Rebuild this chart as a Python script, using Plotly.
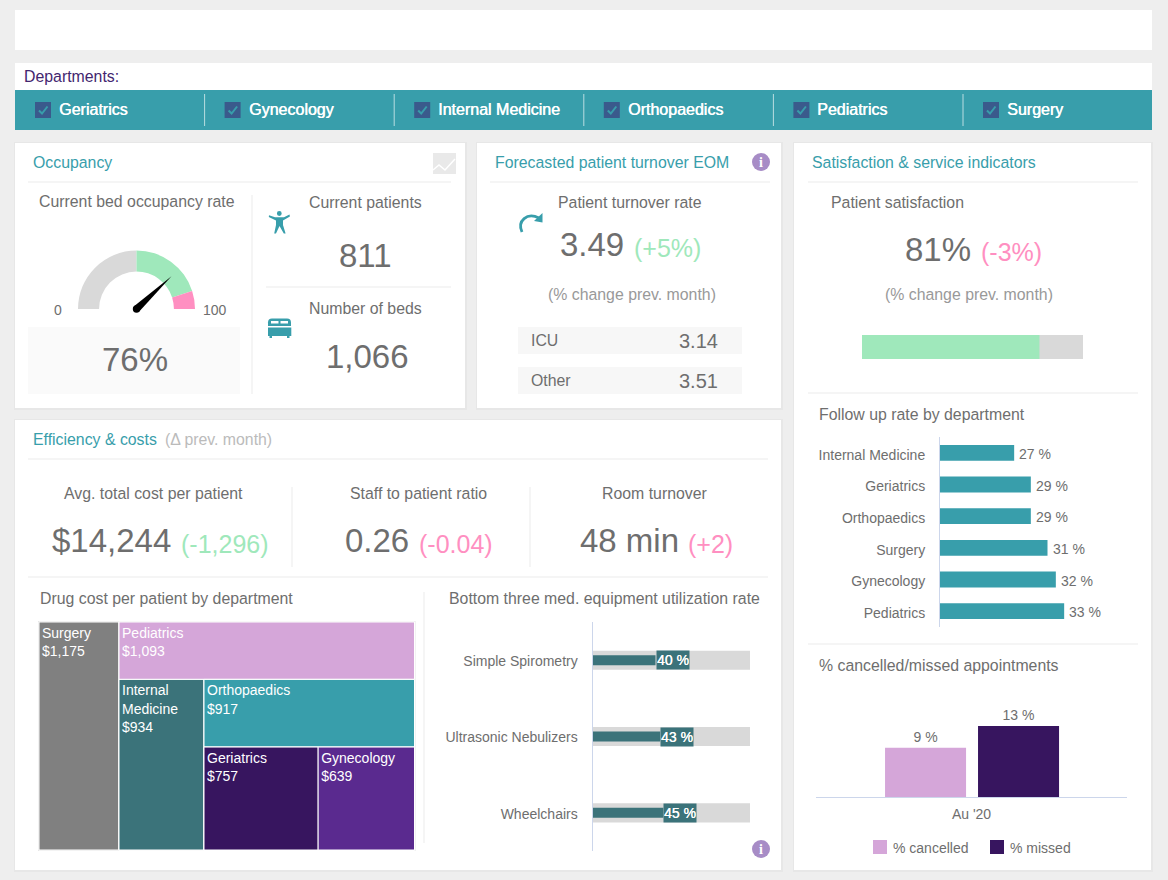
import re
import math
import plotly.graph_objects as go

W, H = 1168, 880
TEAL = "#389eab"; DTEAL = "#3b737a"; GREY = "#6e6e6e"; GREEN = "#9fe8bb"; PINK = "#ff8fc1"
LILAC = "#d5a6d9"; DPURPLE = "#37155f"; PURPLE = "#5a2a8f"; LGREY = "#d9d9d9"
FONT = "Liberation Sans"
T = 15.85  # body text size

departments = ["Geriatrics", "Gynecology", "Internal Medicine", "Orthopaedics", "Pediatrics", "Surgery"]
tree_labels = ["Surgery", "Pediatrics", "Internal<br>Medicine", "Orthopaedics", "Geriatrics", "Gynecology"]
tree_costs = [1175, 1093, 934, 917, 757, 639]
tree_colors = ["#808080", LILAC, DTEAL, TEAL, DPURPLE, PURPLE]
follow_depts = ["Internal Medicine", "Geriatrics", "Orthopaedics", "Surgery", "Gynecology", "Pediatrics"]
follow_rates = [27, 29, 29, 31, 32, 33]
equip_names = ["Simple Spirometry", "Ultrasonic Nebulizers", "Wheelchairs"]
equip_rates = [40, 43, 45]
equip_full = [100, 100, 100]
appt_period = ["Au '20"]
appt_cancelled = [9]
appt_missed = [13]
gauge_bands = [50, 40, 10]
occupancy = 76
satisfaction = 81
satisfaction_bar = 80.3

fig = go.Figure()
shapes, notes = [], []

def X(x): return x / W
def Y(y): return 1 - y / H
def xd(a, b): return [a / W, b / W]
def yd(t, b): return [1 - b / H, 1 - t / H]

def rect(x0, y0, x1, y1, fill, layer="below"):
    shapes.append(dict(type="rect", xref="paper", yref="paper", x0=X(x0), x1=X(x1), y0=Y(y0), y1=Y(y1),
                       fillcolor=fill, line=dict(width=0), layer=layer))

def line(x0, y0, x1, y1, color="#f2f2f2", w=1.5):
    shapes.append(dict(type="line", xref="paper", yref="paper", x0=X(x0), x1=X(x1), y0=Y(y0), y1=Y(y1),
                       line=dict(color=color, width=w), layer="below"))

def circle(cx, cy, r, fill):
    shapes.append(dict(type="circle", xref="paper", yref="paper", x0=X(cx - r), x1=X(cx + r), y0=Y(cy - r), y1=Y(cy + r),
                       fillcolor=fill, line=dict(width=0), layer="above"))

def path(d, fill=None, color=None, w=0):
    d2 = re.sub(r"(-?[\d.]+),(-?[\d.]+)", lambda m: f"{X(float(m.group(1))):.5f},{Y(float(m.group(2))):.5f}", d)
    shapes.append(dict(type="path", xref="paper", yref="paper", path=d2, fillcolor=fill or "rgba(0,0,0,0)",
                       line=dict(color=color or "rgba(0,0,0,0)", width=w), layer="above"))

def text(x, y, s, size=T, color=GREY, anchor="center", shadow=None):
    if anchor == "left":
        x -= 2
    f = dict(family=FONT, size=size, color=color)
    if shadow:
        f["shadow"] = shadow
    notes.append(dict(xref="paper", yref="paper", x=X(x), y=Y(y + 0.5), text=s, showarrow=False, xanchor=anchor,
                      yanchor="middle", font=f, align=anchor))

def panel(x0, y0, x1, y1):
    rect(x0 - 1, y0 - 1, x1 + 2, y1 + 2, "#e7e7e7")
    rect(x0, y0, x1, y1, "#ffffff")

def info(cx, cy):
    circle(cx, cy, 9, "#a78cc6")
    text(cx, cy, "<b>i</b>", 14, "#ffffff")
    notes[-1]["font"]["family"] = "Liberation Serif"

# ---------- page furniture
rect(15, 10, 1152, 50, "#ffffff")
rect(15, 63, 1152, 90, "#ffffff")
rect(15, 90, 1152, 130, TEAL)
text(24, 76, "Departments:", T, "#43266f", "left")
for i, d in enumerate(departments):
    bx = 35 + i * 189.6
    rect(bx, 102, bx + 16, 118, "#3a5a8c")
    path(f"M {bx+4},{110.5} L {bx+7},{113.5} L {bx+12.5},{106.5}", color=TEAL, w=2)
    text(bx + 24, 108.5, d, 16, "#ffffff", "left", shadow="0.5px 0 0 #ffffff")
    if i:
        line(bx - 20, 94, bx - 20, 126, "#b9dde1", 1)

panel(15, 143, 465, 408)
panel(477, 143, 781, 408)
panel(794, 143, 1151, 870)
panel(15, 420, 781, 870)

# ---------- occupancy
text(33, 162, "Occupancy", T, TEAL, "left")
line(28, 182, 451, 182)
rect(433, 153, 456, 174, "#e9e9e9")
path("M 433,170 L 439,165 L 445,170 L 455,159", color="#ffffff", w=1.5)
text(136.5, 201, "Current bed occupancy rate")
line(252, 195, 252, 394)
rect(28, 327, 240, 394, "#fafafa")
text(134.5, 359, f"{occupancy}%", 33)
text(58, 309, "0", 14)
text(215, 309, "100", 14)
text(365.5, 202, "Current patients")
text(365, 255, "811", 33)
line(266, 287, 451, 287)
text(365.5, 308, "Number of beds")
text(367, 356, "1,066", 33)
# person icon
circle(279.3, 213.5, 2.4, TEAL)
path("M 269,215.2 L 275,217.3 L 284,217.3 L 289.5,214.6 L 289.9,216.5 L 283,220.5 L 283,225 L 285.6,233.5 L 283.8,233.5 "
     "L 279.5,226 L 276,233.5 L 274.2,233.5 L 276,225 L 276,220.5 L 268.8,217 Z", fill=TEAL)
# bed icon
path("M 272,318.5 L 287,318.5 Q 291,318.5 291,322.5 L 291,326 L 268,326 L 268,322.5 Q 268,318.5 272,318.5 Z", fill=TEAL)
rect(268, 327.5, 291.3, 336, TEAL, "above")
rect(269.5, 336, 272, 338, TEAL, "above")
rect(287, 336, 289.5, 338, TEAL, "above")
rect(271, 321, 278.5, 323.5, "#ffffff", "above")
rect(280.5, 321, 288, 323.5, "#ffffff", "above")

# gauge
gcx, gcy, gr = 136.5, 309, 58.5
fig.add_trace(go.Pie(values=gauge_bands + [sum(gauge_bands)], rotation=270, direction="clockwise", sort=False,
                     hole=0.64, textinfo="none", hoverinfo="skip", showlegend=False,
                     marker=dict(colors=[LGREY, GREEN, PINK, "rgba(0,0,0,0)"], line=dict(width=0)),
                     domain=dict(x=xd(gcx - gr, gcx + gr), y=yd(gcy - gr, gcy + gr))))
ang = math.pi * (1 - occupancy / 100)
tx, ty = gcx + 48 * math.cos(ang), gcy - 48 * math.sin(ang)
nx, ny = -math.sin(ang) * 3.7, -math.cos(ang) * 3.7
path(f"M {gcx+nx},{gcy+ny} L {tx},{ty} L {gcx-nx},{gcy-ny} Z", fill="#000000")
circle(gcx, gcy, 3.7, "#000000")

# ---------- forecast
text(495, 162, "Forecasted patient turnover EOM", T, TEAL, "left")
info(761, 162)
line(490, 182, 770, 182)
text(630, 202, "Patient turnover rate")
path("M 522,232 C 517,221 527,212 539,218", color=TEAL, w=2.8)
path("M 542.5,213 L 542.5,222.5 L 534,221 Z", fill=TEAL)
text(560, 244, "3.49", 33, GREY, "left")
text(634, 247, "(+5%)", 25, GREEN, "left")
text(632, 294, "(% change prev. month)", T, "#999999")
rect(518, 327, 742, 354, "#f7f7f7")
rect(518, 367, 742, 394, "#f7f7f7")
text(531, 340, "ICU", T, GREY, "left")
text(698, 340, "3.14", 20)
text(531, 380, "Other", T, GREY, "left")
text(698, 380, "3.51", 20)

# ---------- satisfaction
text(812, 162, "Satisfaction &amp; service indicators", T, TEAL, "left")
line(808, 182, 1138, 182)
text(831, 202, "Patient satisfaction", T, GREY, "left")
text(905, 249, f"{satisfaction}%", 33, GREY, "left")
text(981, 252, "(-3%)", 25, PINK, "left")
text(969, 294, "(% change prev. month)", T, "#999999")
line(808, 393, 1138, 393)
text(819, 414, "Follow up rate by department", T, GREY, "left")
line(808, 644, 1138, 644)
text(819, 665, "% cancelled/missed appointments", T, GREY, "left")

# ---------- efficiency
text(33, 439, "Efficiency &amp; costs", T, TEAL, "left")
text(165, 439, "(Δ prev. month)", T, "#bbbbbb", "left")
line(28, 459, 768, 459)
text(153, 493, "Avg. total cost per patient")
text(52, 540, "$14,244", 33, GREY, "left")
text(181, 543, "(-1,296)", 25, GREEN, "left")
line(292, 487, 292, 567)
text(418, 493, "Staff to patient ratio")
text(345, 540, "0.26", 33, GREY, "left")
text(419, 543, "(-0.04)", 25, PINK, "left")
line(530, 487, 530, 567)
text(655, 493, "Room turnover")
text(580, 540, "48 min", 33, GREY, "left")
text(688, 543, "(+2)", 25, PINK, "left")
line(28, 577, 768, 577)
text(40, 598, "Drug cost per patient by department", T, GREY, "left")
text(449, 598, "Bottom three med. equipment utilization rate", T, GREY, "left")
line(424, 592, 424, 843)
info(761, 849)

# ---------- treemap: nested so that the slice/dice packing gives the reference's tiles
rect(38, 621, 415.5, 851, "#e6e6e6")
ids, parents, values, labels, colors, texts = [], [], [], [], [], []
prev_parent = ""
for i, (lab, cost, col) in enumerate(zip(tree_labels, tree_costs, tree_colors)):
    ids.append(f"leaf{i}"); parents.append(prev_parent); values.append(cost); labels.append(lab)
    colors.append(col); texts.append(f"{lab}<br>${cost:,}")
    if i < len(tree_costs) - 2:
        ids.append(f"group{i}"); parents.append(prev_parent); values.append(0); labels.append(f"group{i}")
        colors.append("#ffffff"); texts.append("")
        prev_parent = f"group{i}"
fig.add_trace(go.Treemap(ids=ids, parents=parents, values=values, labels=labels, text=texts, textinfo="text",
                         branchvalues="remainder", sort=False, hoverinfo="text", maxdepth=-1,
                         tiling=dict(packing="slice-dice", pad=0),
                         pathbar=dict(visible=False), textposition="top left",
                         textfont=dict(family=FONT, size=14, color="#ffffff"),
                         marker=dict(colors=colors, line=dict(color="#ffffff", width=1), pad=dict(t=0, l=0, r=0, b=0)),
                         domain=dict(x=xd(39, 414.5), y=yd(622, 850))))

AX = dict(showgrid=False, zeroline=False, showticklabels=False, fixedrange=True, ticks="")
AXIS_TXT = dict(family=FONT, size=14, color=GREY)

# ---------- satisfaction bar
fig.add_trace(go.Bar(x=[100], y=["s"], orientation="h", marker=dict(color=LGREY, line=dict(width=0)), width=1,
                     showlegend=False, hoverinfo="skip", xaxis="x", yaxis="y"))
fig.add_trace(go.Bar(x=[satisfaction_bar], y=["s"], orientation="h", marker=dict(color=GREEN, line=dict(width=0)), width=1,
                     showlegend=False, hoverinfo="skip", xaxis="x", yaxis="y"))

# ---------- follow up
fig.add_trace(go.Bar(x=follow_rates, y=follow_depts, orientation="h", marker=dict(color=TEAL, line=dict(width=0)), width=0.5,
                     showlegend=False, xaxis="x2", yaxis="y2"))
for n, v in zip(follow_depts, follow_rates):
    notes.append(dict(xref="x2", yref="y2", x=v, y=n, text=f"{v} %", showarrow=False, xanchor="left", yanchor="middle",
                      xshift=3, yshift=-1, font=AXIS_TXT))

# ---------- equipment
fig.add_trace(go.Bar(x=equip_full, y=equip_names, orientation="h", marker=dict(color=LGREY, line=dict(width=0)), width=0.25,
                     showlegend=False, hoverinfo="skip", xaxis="x3", yaxis="y3"))
fig.add_trace(go.Bar(x=equip_rates, y=equip_names, orientation="h", marker=dict(color=DTEAL, line=dict(width=0)), width=0.13,
                     showlegend=False, xaxis="x3", yaxis="y3"))
for n, v in zip(equip_names, equip_rates):
    notes.append(dict(xref="x3", yref="y3", x=v, y=n, text=f"{v} %", showarrow=False, xanchor="left", yanchor="middle",
                      bgcolor=DTEAL, width=32, height=18, borderpad=0,
                      font=dict(family=FONT, size=14, color="#ffffff", shadow="0.2px 0 0 #ffffff")))

# ---------- appointments
fig.add_trace(go.Bar(x=appt_period, y=appt_cancelled, name="% cancelled", marker=dict(color=LILAC, line=dict(width=0)),
                     width=0.2605, offset=-0.278, text=[f"{v} %" for v in appt_cancelled], textposition="outside",
                     cliponaxis=False, textfont=AXIS_TXT, showlegend=False, xaxis="x4", yaxis="y4"))
fig.add_trace(go.Bar(x=appt_period, y=appt_missed, name="% missed", marker=dict(color=DPURPLE, line=dict(width=0)),
                     width=0.2605, offset=0.021, text=[f"{v} %" for v in appt_missed], textposition="outside",
                     cliponaxis=False, textfont=AXIS_TXT, showlegend=False, xaxis="x4", yaxis="y4"))
rect(873, 840, 887, 854, LILAC, "above")
text(893, 847.5, "% cancelled", 14, GREY, "left")
rect(990, 840, 1004, 854, DPURPLE, "above")
text(1010, 847.5, "% missed", 14, GREY, "left")

fig.update_layout(
    width=W, height=H, margin=dict(l=0, r=0, t=0, b=0, pad=0, autoexpand=False),
    paper_bgcolor="#eeeeee", plot_bgcolor="rgba(0,0,0,0)", barmode="overlay",
    font=dict(family=FONT, size=14, color=GREY), shapes=shapes, annotations=notes, showlegend=False,
    xaxis=dict(AX, domain=xd(862, 1083), range=[0, 100]),
    yaxis=dict(AX, domain=yd(335, 359), range=[-0.5, 0.5], anchor="x"),
    xaxis2=dict(AX, domain=xd(940, 1130), range=[18.1, 40.9], anchor="y2"),
    yaxis2=dict(AX, domain=yd(437, 627), autorange="reversed", anchor="x2", showticklabels=True, showline=True,
                linecolor="#ccd6eb", linewidth=1, ticklabelstandoff=11, ticklabelshift=-2, tickfont=AXIS_TXT,
                categoryorder="array", categoryarray=follow_depts),
    xaxis3=dict(AX, domain=xd(592.5, 750), range=[0, 100], anchor="y3"),
    yaxis3=dict(AX, domain=yd(622, 851), autorange="reversed", anchor="x3", showticklabels=True, showline=True,
                linecolor="#ccd6eb", linewidth=1, ticklabelstandoff=11, ticklabelshift=-1, tickfont=AXIS_TXT,
                categoryorder="array", categoryarray=equip_names),
    xaxis4=dict(AX, domain=xd(816, 1127), range=[-0.5, 0.5], anchor="y4", showticklabels=True, showline=True,
                linecolor="#ccd6eb", linewidth=1, tickfont=AXIS_TXT, ticklabelstandoff=4),
    yaxis4=dict(AX, domain=yd(700, 797), range=[0, 97 / 5.46], anchor="x4"),
)
fig.write_html("out.html", config={"displayModeBar": False},
               post_script="document.body.style.margin='0';document.body.style.overflow='hidden';")
